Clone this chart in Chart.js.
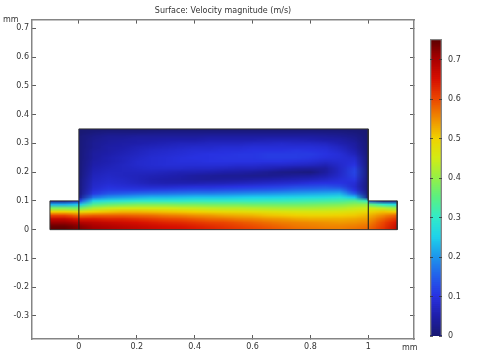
<!DOCTYPE html>
<html>
<head>
<meta charset="utf-8">
<title>Surface: Velocity magnitude (m/s)</title>
<script src="https://cdn.jsdelivr.net/npm/chart.js@4"></script>
<style>
    html, body { margin: 0; background: #fff; }
    canvas { position: absolute; top: 0; filter: blur(0.4px); }
    #surfaceChart { left: 0; }
    #colorbarChart { left: 420px; }
</style>
</head>
<body>
<canvas id="surfaceChart" width="483" height="352"></canvas>
<canvas id="colorbarChart" width="63" height="352"></canvas>
<script>
// axis ticks (mm)
const xTicks = [0, 0.2, 0.4, 0.6, 0.8, 1];
const yTicks = [-0.3, -0.2, -0.1, 0, 0.1, 0.2, 0.3, 0.4, 0.5, 0.6, 0.7];
const colorbarTicks = [0, 0.1, 0.2, 0.3, 0.4, 0.5, 0.6, 0.7];
const speedMax = 0.752;

// speeds, one list per x station, bottom to top
const bodyX = [0, 0.05, 0.1, 0.15, 0.2, 0.25, 0.3, 0.35, 0.4, 0.45, 0.5, 0.55, 0.6, 0.65, 0.7, 0.75, 0.8, 0.85, 0.9, 0.95, 1];
const bodyY = [0, 0.0125, 0.025, 0.0375, 0.05, 0.0625, 0.075, 0.0875, 0.1, 0.1125, 0.125, 0.1375, 0.15, 0.1625, 0.175, 0.1875, 0.2, 0.2125, 0.225, 0.2375, 0.25, 0.2625, 0.275, 0.2875, 0.3, 0.3125, 0.325, 0.3375, 0.35];
const bodySpeed = [
    [.73,.72,.69,.64,.57,.48,.37,.24,.12,.03,.01,.01,.01,.01,.01,.005,.005,.005,.005,.005,.005,.005,.005,.005,.005,.005,.005,0,0],
    [.71,.70,.68,.64,.58,.50,.42,.34,.26,.17,.11,.09,.08,.075,.07,.065,.06,.055,.05,.045,.04,.04,.035,.03,.03,.025,.02,.01,0],
    [.70,.69,.67,.63,.58,.51,.44,.36,.28,.20,.14,.11,.095,.085,.08,.075,.07,.065,.06,.055,.055,.05,.045,.045,.04,.035,.03,.015,0],
    [.69,.68,.66,.63,.58,.52,.45,.37,.29,.21,.15,.11,.09,.08,.075,.07,.07,.07,.07,.065,.065,.06,.055,.05,.045,.04,.03,.015,0],
    [.68,.67,.65,.62,.575,.52,.45,.38,.30,.22,.16,.11,.085,.07,.065,.065,.07,.075,.08,.08,.075,.07,.065,.06,.05,.045,.035,.015,0],
    [.67,.66,.64,.61,.57,.515,.45,.38,.30,.23,.165,.115,.08,.06,.055,.06,.07,.08,.085,.085,.085,.08,.075,.065,.055,.045,.035,.018,0],
    [.66,.65,.63,.60,.56,.51,.45,.38,.30,.23,.17,.12,.08,.055,.05,.055,.065,.08,.09,.09,.09,.085,.08,.07,.06,.05,.035,.02,0],
    [.655,.645,.625,.595,.555,.505,.445,.375,.30,.235,.175,.125,.085,.055,.045,.05,.06,.08,.09,.095,.095,.09,.085,.075,.065,.05,.035,.02,0],
    [.645,.635,.615,.585,.545,.50,.44,.375,.305,.24,.18,.13,.09,.055,.04,.04,.06,.075,.09,.095,.10,.095,.09,.08,.065,.05,.035,.02,0],
    [.635,.625,.605,.575,.54,.49,.435,.37,.305,.24,.18,.13,.09,.06,.035,.035,.055,.075,.09,.10,.10,.10,.09,.08,.07,.055,.04,.02,0],
    [.625,.615,.60,.57,.53,.485,.43,.37,.305,.24,.185,.135,.095,.06,.04,.03,.05,.07,.09,.10,.105,.10,.095,.085,.07,.055,.04,.02,0],
    [.615,.605,.59,.56,.525,.48,.43,.37,.305,.245,.19,.14,.10,.065,.04,.03,.045,.065,.085,.10,.105,.105,.095,.085,.07,.055,.04,.02,0],
    [.605,.595,.58,.555,.52,.475,.425,.365,.305,.25,.195,.145,.105,.07,.045,.025,.04,.065,.085,.10,.105,.105,.10,.09,.075,.055,.04,.02,0],
    [.595,.585,.57,.545,.51,.47,.42,.365,.31,.25,.20,.15,.11,.075,.05,.025,.03,.06,.08,.10,.11,.11,.10,.09,.075,.06,.04,.02,0],
    [.585,.575,.56,.54,.505,.465,.415,.365,.31,.255,.205,.155,.115,.08,.055,.03,.02,.05,.08,.10,.11,.11,.10,.09,.08,.06,.04,.02,0],
    [.575,.565,.555,.53,.50,.46,.415,.365,.315,.26,.21,.165,.125,.085,.06,.035,.015,.04,.075,.095,.11,.11,.105,.09,.075,.06,.04,.02,0],
    [.57,.56,.55,.525,.495,.46,.415,.37,.32,.265,.215,.17,.13,.095,.065,.04,.012,.035,.07,.09,.105,.11,.10,.09,.075,.055,.04,.02,0],
    [.565,.555,.545,.525,.495,.46,.42,.375,.325,.27,.22,.175,.135,.10,.075,.055,.04,.04,.06,.08,.095,.10,.095,.085,.07,.05,.035,.018,0],
    [.56,.555,.54,.525,.50,.465,.425,.38,.33,.28,.225,.175,.125,.10,.09,.08,.075,.075,.08,.085,.09,.09,.08,.07,.055,.045,.03,.015,0],
    [.57,.56,.545,.53,.505,.475,.44,.395,.345,.24,.15,.10,.085,.09,.105,.115,.12,.115,.10,.09,.08,.065,.055,.045,.04,.03,.02,.01,0],
    [.58,.57,.555,.54,.52,.49,.45,.40,.30,.02,.005,0,0,0,0,0,0,0,0,0,0,0,0,0,0,0,0,0,0]
];

const boxY = [0, 0.0125, 0.025, 0.0375, 0.05, 0.0625, 0.075, 0.0875, 0.1];
const inletX = [-0.1, -0.05, 0];
const inletSpeed = [
    [.75,.74,.71,.67,.60,.50,.38,.22,.03],
    [.75,.74,.71,.67,.60,.50,.38,.22,.03],
    [.73,.72,.69,.64,.57,.48,.37,.24,.08]
];
const outletX = [1, 1.05, 1.1];
const outletSpeed = [
    [.58,.57,.555,.54,.52,.49,.45,.36,.15],
    [.62,.61,.60,.58,.55,.51,.43,.30,.03],
    [.68,.67,.65,.62,.58,.50,.40,.26,.03]
];

// walls of the channel, in mm
const wallX = [-0.1, -0.1, 0, 0, 1, 1, 1.1, 1.1, -0.1];
const wallY = [0, 0.1, 0.1, 0.35, 0.35, 0.1, 0.1, 0, 0];
const dividerY = [0, 0.1];

// rainbow colour table as seen on the colour bar
const colorStops = [0, 0.05, 0.1, 0.15, 0.2, 0.25, 0.3, 0.35, 0.4, 0.45, 0.5, 0.55, 0.6, 0.65, 0.7, 0.752];
const colorValues = [
    [25,25,115],[30,30,170],[40,50,225],[35,95,235],[30,150,235],[30,210,235],[50,235,200],[90,240,130],
    [150,240,70],[210,235,20],[240,210,0],[240,140,0],[235,70,0],[215,15,0],[170,0,0],[90,0,0]
];

function speedColor(v) {
    let i = 0;
    while (i < colorStops.length - 2 && v > colorStops[i + 1]) i++;
    const t = Math.min(1, Math.max(0, (v - colorStops[i]) / (colorStops[i + 1] - colorStops[i])));
    const c = colorValues[i].map((a, k) => Math.round(a + (colorValues[i + 1][k] - a) * t));
    return `rgb(${c[0]},${c[1]},${c[2]})`;
}

function toCells(xs, ys, columns) {
    const cells = [];
    xs.forEach((x, i) => ys.forEach((y, j) => cells.push({x: x, y: y, v: columns[i][j]})));
    return cells;
}

function paintField(chart, xs, ys, columns) {
    const xScale = chart.scales.x;
    const yScale = chart.scales.y;
    const off = document.createElement("canvas");
    off.width = xs.length;
    off.height = ys.length;
    const offCtx = off.getContext("2d");
    xs.forEach((x, i) => ys.forEach((y, j) => {
        offCtx.fillStyle = speedColor(columns[i][j]);
        offCtx.fillRect(i, ys.length - 1 - j, 1, 1);
    }));
    const dx = (xs[1] - xs[0]) / 2;
    const dy = (ys[1] - ys[0]) / 2;
    const left = xScale.getPixelForValue(xs[0]);
    const right = xScale.getPixelForValue(xs[xs.length - 1]);
    const top = yScale.getPixelForValue(ys[ys.length - 1]);
    const bottom = yScale.getPixelForValue(ys[0]);
    const imgLeft = xScale.getPixelForValue(xs[0] - dx);
    const imgRight = xScale.getPixelForValue(xs[xs.length - 1] + dx);
    const imgTop = yScale.getPixelForValue(ys[ys.length - 1] + dy);
    const imgBottom = yScale.getPixelForValue(ys[0] - dy);
    const ctx = chart.ctx;
    ctx.save();
    ctx.beginPath();
    ctx.rect(left, top, right - left, bottom - top);
    ctx.clip();
    ctx.imageSmoothingEnabled = true;
    ctx.drawImage(off, imgLeft, imgTop, imgRight - imgLeft, imgBottom - imgTop);
    ctx.restore();
}

const surfacePlugin = {
    id: "surface",
    beforeDatasetsDraw(chart) {
        paintField(chart, inletX, boxY, inletSpeed);
        paintField(chart, outletX, boxY, outletSpeed);
        paintField(chart, bodyX, bodyY, bodySpeed);
    }
};

const unitPlugin = {
    id: "units",
    afterDraw(chart) {
        const ctx = chart.ctx;
        ctx.save();
        ctx.font = "8px 'DejaVu Sans'";
        ctx.fillStyle = "#333";
        ctx.textBaseline = "middle";
        ctx.fillText("mm", 3, 20);
        ctx.fillText("mm", 402, 347.5);
        ctx.restore();
    }
};

const tickFont = {family: "'DejaVu Sans'", size: 8};
const axisColor = "#858585";
const tickColor = "#333";

function innerAxis(position, ticks, min, max, labels) {
    return {
        type: "linear",
        position: position,
        min: min,
        max: max,
        afterBuildTicks: axis => { axis.ticks = ticks.map(v => ({value: v})); },
        border: {color: axisColor, width: 1.5, z: 2},
        grid: {drawOnChartArea: false, tickLength: -4, color: tickColor, tickWidth: 0.8, z: 1},
        ticks: {display: labels, padding: 7, color: tickColor, font: tickFont, autoSkip: false, maxRotation: 0, callback: v => String(v)}
    };
}

const xMin = -0.162, xMax = 1.158, yMin = -0.38, yMax = 0.73;

const xAxis = innerAxis("bottom", xTicks, xMin, xMax, true);
xAxis.afterFit = s => { s.height = 13; };
const xTopAxis = innerAxis("top", xTicks, xMin, xMax, false);
xTopAxis.afterFit = s => { s.height = 0; };
const yAxis = innerAxis("left", yTicks, yMin, yMax, true);
yAxis.afterFit = s => { s.width = 32; };
const yRightAxis = innerAxis("right", yTicks, yMin, yMax, false);
yRightAxis.afterFit = s => { s.width = 69; };

new Chart(document.getElementById("surfaceChart"), {
    type: "scatter",
    data: {
        datasets: [
            {label: "Walls", data: wallX.map((x, i) => ({x: x, y: wallY[i]})), showLine: true, borderColor: "#333", borderWidth: 1, pointRadius: 0},
            {label: "Inlet divider", data: dividerY.map(y => ({x: 0, y: y})), showLine: true, borderColor: "#111", borderWidth: 1, pointRadius: 0},
            {label: "Outlet divider", data: dividerY.map(y => ({x: 1, y: y})), showLine: true, borderColor: "#111", borderWidth: 1, pointRadius: 0},
            {label: "Velocity magnitude", data: toCells(bodyX, bodyY, bodySpeed), pointRadius: 0},
            {label: "Inlet", data: toCells(inletX, boxY, inletSpeed), pointRadius: 0},
            {label: "Outlet", data: toCells(outletX, boxY, outletSpeed), pointRadius: 0}
        ]
    },
    options: {
        responsive: false,
        animation: false,
        events: [],
        layout: {padding: 0},
        plugins: {
            legend: {display: false},
            tooltip: {enabled: false},
            title: {
                display: true,
                text: "Surface: Velocity magnitude (m/s)",
                fullSize: false,
                color: "#333",
                font: {family: "'DejaVu Sans'", size: 8, weight: "normal"},
                padding: {top: 6, bottom: 4}
            }
        },
        scales: {x: xAxis, xTop: xTopAxis, y: yAxis, yRight: yRightAxis}
    },
    plugins: [surfacePlugin, unitPlugin]
});

// colour bar: nested bars from 0 up to each level, the shortest painted on top
const colorbarLevels = [];
for (let l = 1; l * 0.005 < speedMax; l++) colorbarLevels.push(l * 0.005);
colorbarLevels.push(speedMax);

const barLeft = innerAxis("left", colorbarTicks, 0, speedMax, false);
barLeft.grid.tickLength = -3;
barLeft.border.display = false;
barLeft.afterFit = s => { s.width = 10; };
const barRight = innerAxis("right", colorbarTicks, 0, speedMax, true);
barRight.grid.tickLength = -3;
barRight.border.display = false;
barRight.ticks.padding = 9;
barRight.afterFit = s => { s.width = 41; };

new Chart(document.getElementById("colorbarChart"), {
    type: "bar",
    data: {
        labels: ["Velocity magnitude (m/s)"],
        datasets: [{data: [[0, speedMax]], backgroundColor: "transparent", borderColor: axisColor, borderWidth: 1}].concat(
            colorbarLevels.map(l => ({data: [[0, l]], backgroundColor: speedColor(l - 0.0025), borderWidth: 0}))
        )
    },
    options: {
        responsive: false,
        animation: false,
        events: [],
        layout: {padding: {top: 39, bottom: 16}},
        datasets: {bar: {grouped: false, barPercentage: 1, categoryPercentage: 1}},
        plugins: {legend: {display: false}, tooltip: {enabled: false}},
        scales: {
            x: {display: false},
            y: barLeft,
            yRight: barRight
        }
    }
});
</script>
</body>
</html>
